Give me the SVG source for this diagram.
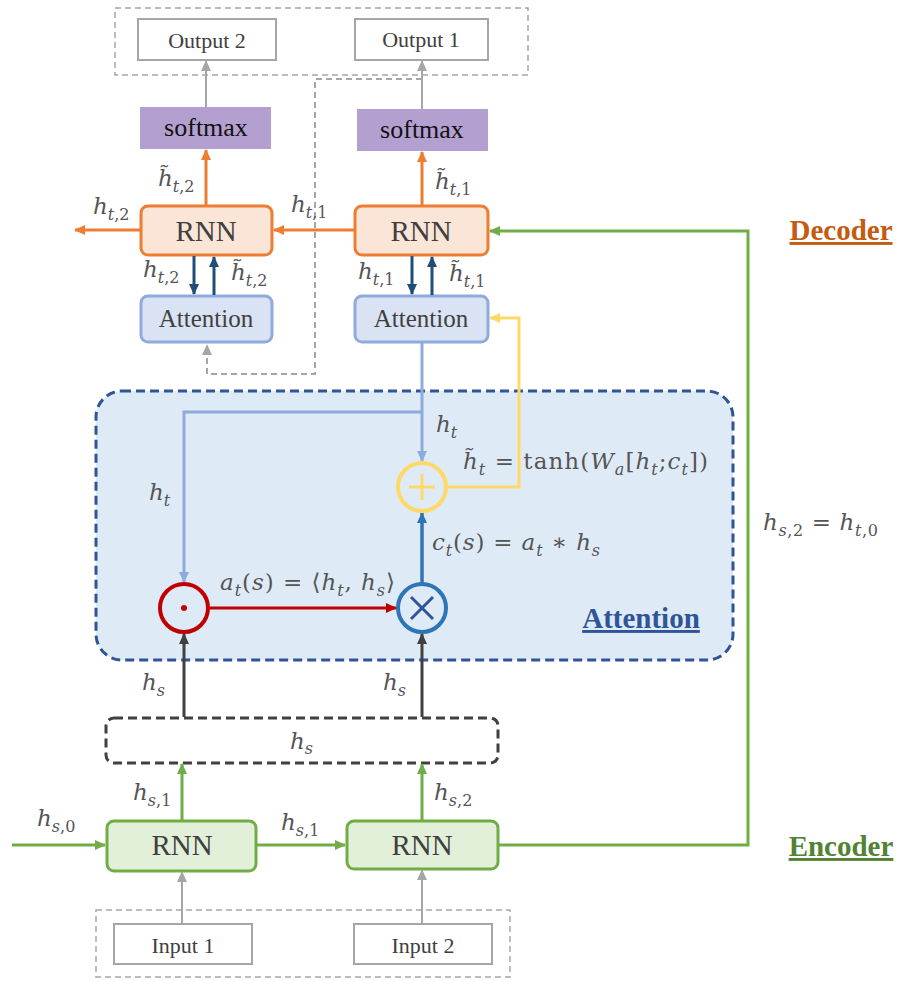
<svg xmlns="http://www.w3.org/2000/svg" width="899" height="981" viewBox="0 0 899 981">
<style>
.lbl{font-family:"Liberation Serif","Times New Roman",serif;fill:#404040;text-anchor:middle}
.m{font-family:"DejaVu Serif","Liberation Serif",serif;font-style:italic;fill:#555;font-size:23px}
.s{font-size:16px}
.up{font-style:normal}
.hdr{font-family:"Liberation Serif",serif;font-weight:bold;text-decoration:underline;font-size:29px}
</style>
<defs>
<marker id="aO" markerUnits="userSpaceOnUse" markerWidth="12" markerHeight="10" refX="10" refY="5" orient="auto"><path d="M0,0L11,5L0,10z" fill="#ed7d31"/></marker>
<marker id="aD" markerUnits="userSpaceOnUse" markerWidth="12" markerHeight="10" refX="10" refY="5" orient="auto"><path d="M0,0L11,5L0,10z" fill="#1f4e79"/></marker>
<marker id="aG" markerUnits="userSpaceOnUse" markerWidth="12" markerHeight="10" refX="10" refY="5" orient="auto"><path d="M0,0L11,5L0,10z" fill="#70ad47"/></marker>
<marker id="aY" markerUnits="userSpaceOnUse" markerWidth="12" markerHeight="10" refX="10" refY="5" orient="auto"><path d="M0,0L11,5L0,10z" fill="#a6a6a6"/></marker>
<marker id="aL" markerUnits="userSpaceOnUse" markerWidth="12" markerHeight="10" refX="10" refY="5" orient="auto"><path d="M0,0L11,5L0,10z" fill="#8faadc"/></marker>
<marker id="aW" markerUnits="userSpaceOnUse" markerWidth="12" markerHeight="10" refX="10" refY="5" orient="auto"><path d="M0,0L11,5L0,10z" fill="#ffd966"/></marker>
<marker id="aR" markerUnits="userSpaceOnUse" markerWidth="12" markerHeight="10" refX="10" refY="5" orient="auto"><path d="M0,0L11,5L0,10z" fill="#c00000"/></marker>
<marker id="aB" markerUnits="userSpaceOnUse" markerWidth="12" markerHeight="10" refX="10" refY="5" orient="auto"><path d="M0,0L11,5L0,10z" fill="#2e75b6"/></marker>
<marker id="aK" markerUnits="userSpaceOnUse" markerWidth="12" markerHeight="10" refX="10" refY="5" orient="auto"><path d="M0,0L11,5L0,10z" fill="#404040"/></marker>
</defs>
<rect width="899" height="981" fill="#fff"/>

<g id="outputs-group"><rect x="115" y="8" width="413" height="67" fill="none" stroke="#a6a6a6" stroke-width="1.5" stroke-dasharray="6,4"/></g>
<g id="inputs-group"><rect x="96" y="910" width="414" height="67" fill="none" stroke="#a6a6a6" stroke-width="1.5" stroke-dasharray="6,4"/></g>
<g id="attention-block">
<rect x="96" y="391" width="637" height="269" rx="26" fill="#deebf7" stroke="#2f5597" stroke-width="3" stroke-dasharray="9,5"/>
<text class="hdr" x="641" y="628" fill="#2f5597" text-anchor="middle">Attention</text>
</g>

<g id="output2"><rect x="138" y="19" width="138" height="41" fill="#fff" stroke="#a6a6a6" stroke-width="2"/><text class="lbl" x="207" y="48" font-size="22">Output 2</text></g>
<g id="output1"><rect x="355" y="19" width="133" height="41" fill="#fff" stroke="#a6a6a6" stroke-width="2"/><text class="lbl" x="421" y="47" font-size="22">Output 1</text></g>
<g id="softmax2"><rect x="140" y="107" width="131" height="42" fill="#b4a0d0"/><text class="lbl" x="206" y="136" font-size="26" style="fill:#111">softmax</text></g>
<g id="softmax1"><rect x="357" y="109" width="131" height="42" fill="#b4a0d0"/><text class="lbl" x="422" y="138" font-size="26" style="fill:#111">softmax</text></g>

<g id="dec-rnn2"><rect x="141" y="206" width="131" height="49" rx="7" fill="#fbe5d6" stroke="#ed7d31" stroke-width="3"/><text class="lbl" x="206" y="241" font-size="29">RNN</text></g>
<g id="dec-rnn1"><rect x="355" y="206" width="133" height="49" rx="7" fill="#fbe5d6" stroke="#ed7d31" stroke-width="3"/><text class="lbl" x="421" y="241" font-size="29">RNN</text></g>
<g id="dec-att2"><rect x="141" y="296" width="131" height="46" rx="7" fill="#dae3f3" stroke="#8faadc" stroke-width="3"/><text class="lbl" x="206" y="327" font-size="25">Attention</text></g>
<g id="dec-att1"><rect x="355" y="296" width="133" height="46" rx="7" fill="#dae3f3" stroke="#8faadc" stroke-width="3"/><text class="lbl" x="421" y="327" font-size="25">Attention</text></g>

<g id="hs-box"><rect x="106" y="718" width="392" height="45" rx="8" fill="#fff" stroke="#404040" stroke-width="3" stroke-dasharray="9,5"/><text class="m" x="290" y="749">h<tspan class="s" dy="5">s</tspan></text></g>

<g id="enc-rnn1"><rect x="107" y="821" width="149" height="50" rx="7" fill="#e2f0d9" stroke="#70ad47" stroke-width="3"/><text class="lbl" x="182" y="855" font-size="29">RNN</text></g>
<g id="enc-rnn2"><rect x="347" y="821" width="151" height="48" rx="7" fill="#e2f0d9" stroke="#70ad47" stroke-width="3"/><text class="lbl" x="422" y="855" font-size="29">RNN</text></g>

<g id="input1"><rect x="114" y="924" width="138" height="40" fill="#fff" stroke="#a6a6a6" stroke-width="2"/><text class="lbl" x="183" y="953" font-size="22">Input 1</text></g>
<g id="input2"><rect x="354" y="924" width="138" height="40" fill="#fff" stroke="#a6a6a6" stroke-width="2"/><text class="lbl" x="423" y="953" font-size="22">Input 2</text></g>

<g id="connectors" fill="none">
<path d="M422,79H315V374H207V345" stroke="#a6a6a6" stroke-width="2" stroke-dasharray="6,4" marker-end="url(#aY)"/>
<path d="M206,107V61" stroke="#a6a6a6" stroke-width="2" marker-end="url(#aY)"/>
<path d="M422,109V61" stroke="#a6a6a6" stroke-width="2" marker-end="url(#aY)"/>
<path d="M206,205V150" stroke="#ed7d31" stroke-width="3" marker-end="url(#aO)"/>
<path d="M422,205V152" stroke="#ed7d31" stroke-width="3" marker-end="url(#aO)"/>
<path d="M354,230H274" stroke="#ed7d31" stroke-width="3" marker-end="url(#aO)"/>
<path d="M140,230H75" stroke="#ed7d31" stroke-width="3" marker-end="url(#aO)"/>
<path d="M194,256V294" stroke="#1f4e79" stroke-width="3" marker-end="url(#aD)"/>
<path d="M214,295V257" stroke="#1f4e79" stroke-width="3" marker-end="url(#aD)"/>
<path d="M412,256V294" stroke="#1f4e79" stroke-width="3" marker-end="url(#aD)"/>
<path d="M432,295V257" stroke="#1f4e79" stroke-width="3" marker-end="url(#aD)"/>
<path d="M498,845H748V231H490" stroke="#70ad47" stroke-width="3" marker-end="url(#aG)"/>
<path d="M12,845H105" stroke="#70ad47" stroke-width="3" marker-end="url(#aG)"/>
<path d="M256,845H345" stroke="#70ad47" stroke-width="3" marker-end="url(#aG)"/>
<path d="M182,820V764" stroke="#70ad47" stroke-width="3" marker-end="url(#aG)"/>
<path d="M422,820V764" stroke="#70ad47" stroke-width="3" marker-end="url(#aG)"/>
<path d="M182,924V872" stroke="#a6a6a6" stroke-width="2" marker-end="url(#aY)"/>
<path d="M422,924V870" stroke="#a6a6a6" stroke-width="2" marker-end="url(#aY)"/>
<path d="M184,717V634" stroke="#404040" stroke-width="3" marker-end="url(#aK)"/>
<path d="M422,717V634" stroke="#404040" stroke-width="3" marker-end="url(#aK)"/>
<path d="M422,343V461" stroke="#8faadc" stroke-width="3" marker-end="url(#aL)"/>
<path d="M422,412H184V582" stroke="#8faadc" stroke-width="3" marker-end="url(#aL)"/>
<path d="M447,487H519V318H490" stroke="#ffd966" stroke-width="3" marker-end="url(#aW)"/>
<path d="M209,608H396" stroke="#c00000" stroke-width="3" marker-end="url(#aR)"/>
<path d="M422,583V513" stroke="#2e75b6" stroke-width="3.5" marker-end="url(#aB)"/>
</g>

<g id="op-dot"><circle cx="184" cy="608" r="24" fill="#deebf7" stroke="#c00000" stroke-width="4"/><circle cx="184" cy="608" r="3" fill="#c00000"/></g>
<g id="op-times"><circle cx="422" cy="608" r="24" fill="#deebf7" stroke="#2e75b6" stroke-width="4"/><path d="M411,597L433,619M433,597L411,619" stroke="#2f5597" stroke-width="3"/></g>
<g id="op-plus"><circle cx="422" cy="487" r="24" fill="#deebf7" stroke="#ffd966" stroke-width="4"/><path d="M409,487H435M422,474V500" stroke="#ffd966" stroke-width="3"/></g>

<g id="labels">
<text class="m" x="158" y="186">h̃<tspan class="s" dy="6">t<tspan class="up">,2</tspan></tspan></text>
<text class="m" x="435" y="189">h̃<tspan class="s" dy="6">t<tspan class="up">,1</tspan></tspan></text>
<text class="m" x="93" y="214">h<tspan class="s" dy="6">t<tspan class="up">,2</tspan></tspan></text>
<text class="m" x="291" y="212">h<tspan class="s" dy="6">t<tspan class="up">,1</tspan></tspan></text>
<text class="m" x="143" y="277">h<tspan class="s" dy="6">t<tspan class="up">,2</tspan></tspan></text>
<text class="m" x="231" y="280">h̃<tspan class="s" dy="6">t<tspan class="up">,2</tspan></tspan></text>
<text class="m" x="358" y="279">h<tspan class="s" dy="6">t<tspan class="up">,1</tspan></tspan></text>
<text class="m" x="449" y="281">h̃<tspan class="s" dy="6">t<tspan class="up">,1</tspan></tspan></text>
<text class="m" x="436" y="432">h<tspan class="s" dy="6">t</tspan></text>
<text class="m" x="463" y="469" textLength="245" lengthAdjust="spacing">h̃<tspan class="s" dy="6">t</tspan><tspan class="up" dy="-6"> = tanh(</tspan>W<tspan class="s" dy="6">a</tspan><tspan class="up" dy="-6">[</tspan>h<tspan class="s" dy="6">t</tspan><tspan class="up" dy="-6">;</tspan>c<tspan class="s" dy="6">t</tspan><tspan class="up" dy="-6">])</tspan></text>
<text class="m" x="149" y="500">h<tspan class="s" dy="6">t</tspan></text>
<text class="m" x="432" y="550" textLength="168" lengthAdjust="spacing">c<tspan class="s" dy="6">t</tspan><tspan class="up" dy="-6">(</tspan>s<tspan class="up">) = </tspan>a<tspan class="s" dy="6">t</tspan><tspan class="up" dy="-6"> ∗ </tspan>h<tspan class="s" dy="6">s</tspan></text>
<text class="m" x="220" y="590" textLength="175" lengthAdjust="spacing">a<tspan class="s" dy="6">t</tspan><tspan class="up" dy="-6">(</tspan>s<tspan class="up">) = ⟨</tspan>h<tspan class="s" dy="6">t</tspan><tspan class="up" dy="-6">, </tspan>h<tspan class="s" dy="6">s</tspan><tspan class="up" dy="-6">⟩</tspan></text>
<text class="m" x="142" y="690">h<tspan class="s" dy="6">s</tspan></text>
<text class="m" x="383" y="690">h<tspan class="s" dy="6">s</tspan></text>
<text class="m" x="133" y="800">h<tspan class="s" dy="6">s<tspan class="up">,1</tspan></tspan></text>
<text class="m" x="434" y="800">h<tspan class="s" dy="6">s<tspan class="up">,2</tspan></tspan></text>
<text class="m" x="37" y="826">h<tspan class="s" dy="6">s<tspan class="up">,0</tspan></tspan></text>
<text class="m" x="281" y="830">h<tspan class="s" dy="6">s<tspan class="up">,1</tspan></tspan></text>
<text class="m" x="763" y="530" textLength="115" lengthAdjust="spacing">h<tspan class="s" dy="6">s<tspan class="up">,2</tspan></tspan><tspan class="up" dy="-6"> = </tspan>h<tspan class="s" dy="6">t<tspan class="up">,0</tspan></tspan></text>
<text class="hdr" x="841" y="240" fill="#c55a11" text-anchor="middle">Decoder</text>
<text class="hdr" x="841" y="856" fill="#548235" text-anchor="middle">Encoder</text>
</g>
</svg>
